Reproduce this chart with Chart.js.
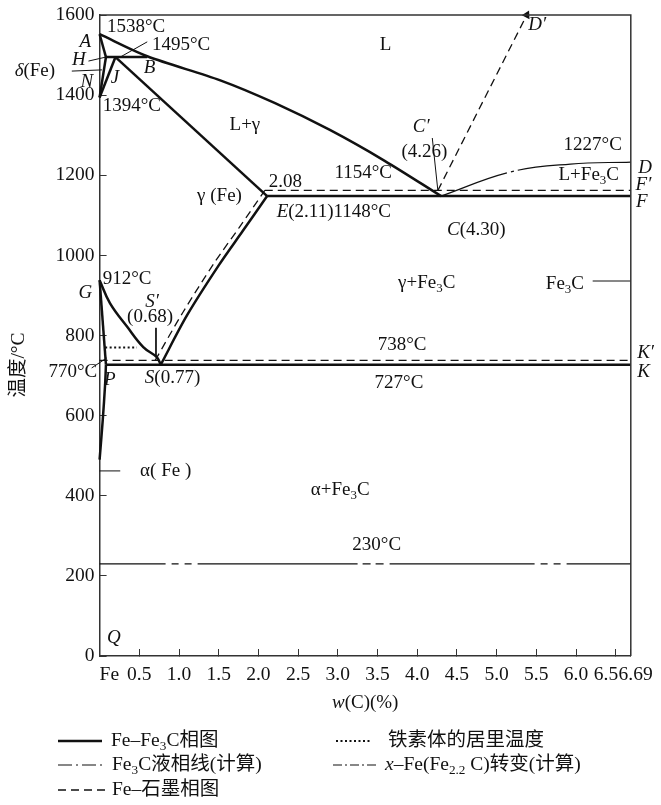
<!DOCTYPE html>
<html><head><meta charset="utf-8">
<script src="https://cdn.jsdelivr.net/npm/chart.js@4"></script>
<style>html,body{margin:0;padding:0;background:#fff}#wrap{width:661px;height:805px;position:relative}</style>
</head><body><div id="wrap"><canvas id="c" width="661" height="805"></canvas></div>
<script>
// ---------- axis ticks ----------
const xTickValues = [0,0.5,1,1.5,2,2.5,3,3.5,4,4.5,5,5.5,6,6.5,6.69];
const xTickLabels = ['Fe','0.5','1.0','1.5','2.0','2.5','3.0','3.5','4.0','4.5','5.0','5.5','6.0','6.5','6.69'];
const yTickValues = [0,200,400,600,800,1000,1200,1400,1600];
const yTickLabels = ['0','200','400','600','800','1000','1200','1400','1600'];

// ---------- Fe–Fe3C diagram (solid) : [w(C) %, T °C] ----------
const liquidusABC = [[0,1552],[0.6,1497],[1.52,1437],[2.21,1380],[2.90,1313],[3.59,1236],[4.30,1148]];
const solidusAH   = [[0,1552],[0.08,1495]];
const lineHN      = [[0.08,1495],[0,1394]];
const lineJN      = [[0.2,1495],[0,1394]];
const peritecticHJB = [[0.08,1495],[0.6,1495]];
const solidusJE   = [[0.2,1495],[2.11,1148]];
const eutecticECF = [[2.11,1148],[6.69,1148]];
const lineGS      = [[0,938],[0.13,881],[0.35,821],[0.55,771],[0.72,746],[0.77,727]];
const lineGP      = [[0,938],[0.08,727]];
const solvusPQ    = [[0.08,727],[0.07,680],[0.04,590],[0,490]];
const solvusSE    = [[0.77,727],[1.10,850],[1.50,975],[1.80,1060],[2.11,1148]];
const eutectoidPSK= [[0.08,727],[6.69,727]];

// ---------- Fe–graphite diagram (dashed) ----------
const eutecticEF2 = [[2.08,1162],[6.69,1162]];
const solvusSE2   = [[0.70,738],[1.05,858],[1.45,983],[1.76,1070],[2.08,1162]];
const liquidusCD2 = [[4.26,1162],[5.38,1600]];
const eutectoidPK2= [[0,738],[6.69,738]];

// ---------- calculated Fe3C liquidus (dash-dot) ----------
const liquidusCD  = [[4.30,1148],[5.17,1208],[5.93,1228],[6.69,1233]];
// ---------- ferrite Curie temperature (dotted) ----------
const curieLine   = [[0.07,770],[0.47,770]];
// ---------- x-Fe(Fe2.2C) transformation (calculated) ----------
const chiLine     = [[0,230],[6.69,230]];

// ---------- leader lines ----------
const leaders = [
  [[-0.35,1460],[0.03,1463]],
  [[-0.14,1485],[0.08,1495]],
  [[0.26,1495],[0.6,1533]],
  [[-0.10,719],[0.09,744]],
  [[0.71,819],[0.71,746]],
  [[4.19,1293],[4.26,1162]],
  [[0,462],[0.26,462]],
  [[6.21,936],[6.69,936]]
];

// ---------- region / point labels: [text, w(C), T, align] ----------
const labelTexts = [
 ['1538°C', 0.093, 1570, 'left'],
 ['<i>A</i>', -0.18, 1533, 'center'],
 ['1495°C', 0.66, 1525, 'left'],
 ['<i>H</i>', -0.26, 1488, 'center'],
 ['<i>δ</i>(Fe)', -0.56, 1460, 'right'],
 ['<i>N</i>', -0.16, 1433, 'center'],
 ['<i>J</i>', 0.195, 1443, 'center'],
 ['<i>B</i>', 0.63, 1468, 'center'],
 ['1394°C', 0.04, 1373, 'left'],
 ['L', 3.6, 1525, 'center'],
 ['L+γ', 1.83, 1325, 'center'],
 ['γ (Fe)', 1.51, 1148, 'center'],
 ['2.08', 2.34, 1183, 'center'],
 ['1154°C', 3.32, 1206, 'center'],
 ['<i>E</i>(2.11)1148°C', 2.23, 1108, 'left'],
 ['<i>C′</i>', 4.05, 1320, 'center'],
 ['(4.26)', 4.09, 1258, 'center'],
 ['<i>C</i>(4.30)', 4.375, 1063, 'left'],
 ['<i>D′</i>', 5.40, 1575, 'left'],
 ['1227°C', 6.21, 1276, 'center'],
 ['L+Fe<sub>3</sub>C', 6.16, 1201, 'center'],
 ['<i>D</i>', 6.87, 1218, 'center'],
 ['<i>F′</i>', 6.85, 1176, 'center'],
 ['<i>F</i>', 6.83, 1133, 'center'],
 ['912°C', 0.04, 941, 'left'],
 ['<i>G</i>', -0.18, 906, 'center'],
 ['<i>S′</i>', 0.66, 884, 'center'],
 ['(0.68)', 0.635, 846, 'center'],
 ['770°C', -0.03, 709, 'right'],
 ['<i>P</i>', 0.13, 689, 'center'],
 ['<i>S</i>(0.77)', 0.57, 694, 'left'],
 ['738°C', 3.81, 776, 'center'],
 ['727°C', 3.77, 681, 'center'],
 ['<i>K′</i>', 6.77, 756, 'left'],
 ['<i>K</i>', 6.77, 709, 'left'],
 ['γ+Fe<sub>3</sub>C', 4.12, 931, 'center'],
 ['Fe<sub>3</sub>C', 5.86, 929, 'center'],
 ['α( Fe )', 0.51, 462, 'left'],
 ['α+Fe<sub>3</sub>C', 3.03, 414, 'center'],
 ['230°C', 3.49, 277, 'center'],
 ['<i>Q</i>', 0.18, 45, 'center']
];

const legendNames = ['Fe–Fe<sub>3</sub>C相图','Fe<sub>3</sub>C液相线(计算)','Fe–石墨相图','铁素体的居里温度','<i>x</i>–Fe(Fe<sub>2.2</sub> C)转变(计算)'];
const xTitle = '<i>w</i>(C)(%)';
const yTitle = '温度/°C';

// ---------- styles ----------
const FONT = "'Liberation Serif','Noto Sans CJK SC',serif";
const BLACK = '#111';
const STYLE = {
  solid:  {borderWidth:2.5, borderDash:[]},
  liqCalc:{borderWidth:1.2, borderDash:[70,4,3,4,200]},
  graph:  {borderWidth:1.3, borderDash:[8,5]},
  curie:  {borderWidth:2.2, borderDash:[2,2.5]},
  chi:    {borderWidth:1.3, borderDash:[66,6,7,6,7,6,160,5,8,5,8,6,145,6,7,6,7,6,80]},
  leader: {borderWidth:1, borderDash:[]}
};
const LEGEND_DASH = [[],[14,4,2,4],[8,5],[2,2.5],[9,3,2,3]];
const LEGEND_W = [2.5,1.2,1.3,2.2,1.2];

function pts(a){ return a.map(p=>({x:p[0], y:p[1]})); }
function ds(arr, st, tension, extra){
  return Object.assign({data:pts(arr), showLine:true, borderColor:BLACK, backgroundColor:BLACK,
    borderWidth:STYLE[st].borderWidth, borderDash:STYLE[st].borderDash, tension:tension||0,
    pointRadius:0, clip:false, borderCapStyle:'butt'}, extra||{});
}
const datasets = [
  ds(liquidusABC,'solid',0.3), ds(solidusAH,'solid'), ds(lineHN,'solid'), ds(lineJN,'solid'),
  ds(peritecticHJB,'solid'), ds(solidusJE,'solid'), ds(eutecticECF,'solid'), ds(lineGS,'solid',0.4),
  ds(lineGP,'solid'), ds(solvusPQ,'solid',0.3), ds(solvusSE,'solid',0.3), ds(eutectoidPSK,'solid'),
  ds(eutecticEF2,'graph'), ds(solvusSE2,'graph',0.3),
  ds(liquidusCD2,'graph',0,{pointRadius:[0,5], pointStyle:'triangle', pointRotation:27, pointBorderWidth:0}),
  ds(eutectoidPK2,'graph'),
  ds(liquidusCD,'liqCalc',0.4), ds(curieLine,'curie'), ds(chiLine,'chi')
].concat(leaders.map(l=>ds(l,'leader')));

// ---------- rich text ----------
function parseRich(s){
  const re=/<i>(.*?)<\/i>|<sub>(.*?)<\/sub>|([^<]+)/g; const out=[]; let m;
  while((m=re.exec(s))){ if(m[1]!==undefined) out.push({t:m[1],it:true}); else if(m[2]!==undefined) out.push({t:m[2],sub:true}); else out.push({t:m[3]}); }
  return out;
}
function drawRich(ctx,s,x,y,size,align){
  const segs=parseRich(s); let w=0;
  segs.forEach(g=>{ g.size=g.sub?size*0.68:size; ctx.font=(g.it?'italic ':'')+g.size+'px '+FONT; g.w=ctx.measureText(g.t).width; w+=g.w; });
  let sx = align==='left'?x:(align==='right'?x-w:x-w/2);
  ctx.textBaseline='middle'; ctx.textAlign='left'; ctx.fillStyle=BLACK;
  segs.forEach(g=>{ ctx.font=(g.it?'italic ':'')+g.size+'px '+FONT; ctx.fillText(g.t,sx,y+(g.sub?size*0.28:0)); sx+=g.w; });
}

const decor = {
  id:'decor',
  afterDatasetsDraw(chart){
    const ctx=chart.ctx, a=chart.chartArea, xs=chart.scales.x, ys=chart.scales.y;
    ctx.save();
    ctx.strokeStyle='#333'; ctx.lineWidth=1.5; ctx.setLineDash([]);
    ctx.beginPath(); ctx.moveTo(a.left,a.top); ctx.lineTo(a.right,a.top); ctx.lineTo(a.right,a.bottom); ctx.stroke();
    labelTexts.forEach(l=>drawRich(ctx,l[0],xs.getPixelForValue(l[1]),ys.getPixelForValue(l[2]),19,l[3]));
    drawRich(ctx,xTitle,(a.left+a.right)/2,703,19,'center');
    ctx.save(); ctx.translate(19,365); ctx.rotate(-Math.PI/2); drawRich(ctx,yTitle,0,0,19.5,'center'); ctx.restore();
    const items=[[58,102,741,111],[58,102,765,112],[58,105,790,112],[336,371,741,388],[333,376,765,385]];
    items.forEach((it,i)=>{
      ctx.strokeStyle=BLACK; ctx.lineWidth=LEGEND_W[i]; ctx.setLineDash(LEGEND_DASH[i]);
      ctx.beginPath(); ctx.moveTo(it[0],it[2]); ctx.lineTo(it[1],it[2]); ctx.stroke();
      ctx.setLineDash([]);
      drawRich(ctx,legendNames[i],it[3],it[2],19.5,'left');
    });
    ctx.restore();
  }
};

const tickFont = {family:FONT, size:19.5};
function xLabel(i){
  const t=xTickLabels[i];
  if(t==='Fe') return '    '+t;
  if(t==='6.5') return t+'    ';
  if(t==='6.69') return '  '+t;
  return t;
}
new Chart(document.getElementById('c').getContext('2d'),{
  type:'scatter',
  data:{datasets},
  plugins:[decor],
  options:{
    responsive:false, animation:false, devicePixelRatio:1,
    layout:{padding:{top:15,right:30.2,left:0,bottom:0}},
    plugins:{legend:{display:false},tooltip:{enabled:false}},
    scales:{
      x:{type:'linear',min:0,max:6.69,
        afterBuildTicks(s){ s.ticks=xTickValues.map(v=>({value:v})); },
        afterFit(s){ s.height=149; s.paddingLeft=0; s.paddingRight=0; },
        ticks:{autoSkip:false,maxRotation:0,minRotation:0,padding:14,font:tickFont,color:BLACK,
          callback:(v,i)=>xLabel(i)},
        grid:{drawOnChartArea:false,drawTicks:true,tickLength:-7,color:'#333',lineWidth:1},
        border:{display:true,color:'#333',width:1.5}
      },
      y:{type:'linear',min:0,max:1600,
        afterBuildTicks(s){ s.ticks=yTickValues.map(v=>({value:v})); },
        afterFit(s){ s.width=99.6; s.paddingTop=0; s.paddingBottom=0; },
        ticks:{padding:12,font:tickFont,color:BLACK,callback:(v,i)=>yTickLabels[i]},
        grid:{drawOnChartArea:false,drawTicks:true,tickLength:-7,color:'#333',lineWidth:1},
        border:{display:true,color:'#333',width:1.5}
      }
    }
  }
});
</script></body></html>
